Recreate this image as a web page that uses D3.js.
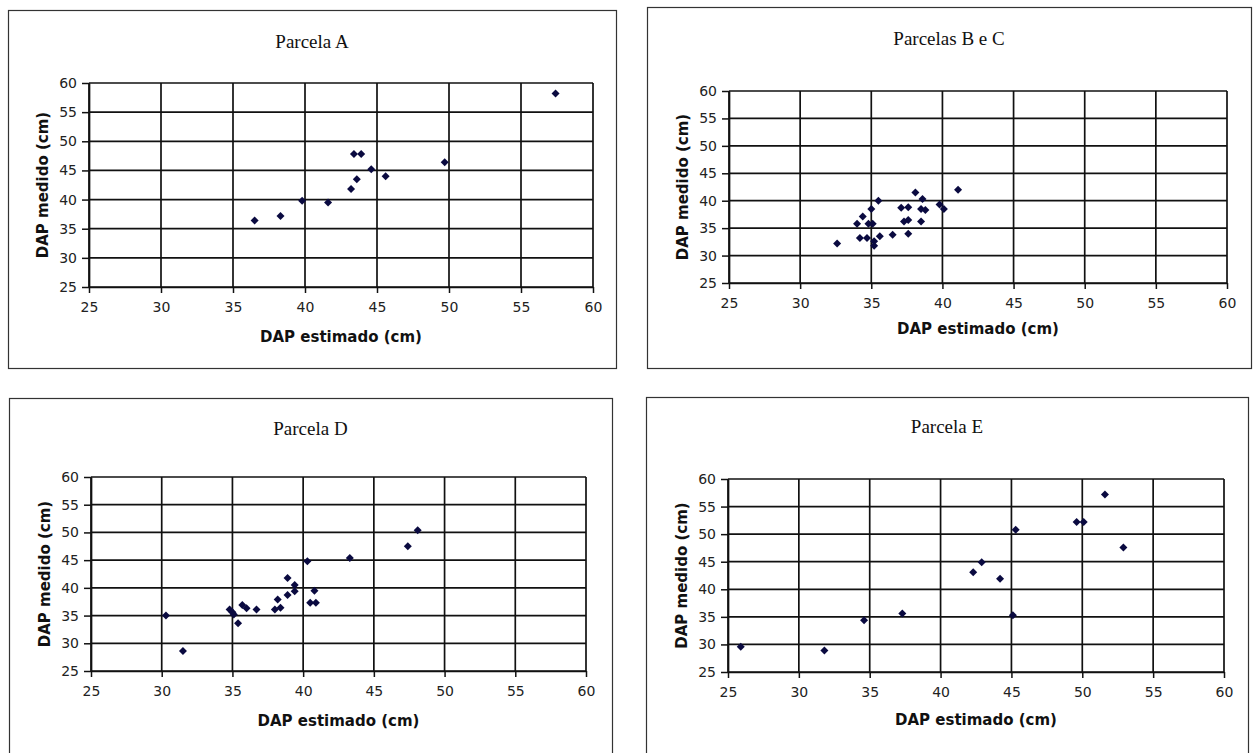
<!DOCTYPE html>
<html>
<head>
<meta charset="utf-8">
<script src="https://cdn.jsdelivr.net/npm/d3@7"></script>
<style>
  body { margin: 0; background: #fff; }
  svg { display: block; }
</style>
</head>
<body>
<svg id="chart" width="1254" height="753"></svg>
<script>
// DAP (diâmetro à altura do peito): estimado vs. medido, por parcela
const parcelaA_estimado = [36.5, 38.3, 39.8, 41.6, 43.2, 43.4, 43.9, 43.6, 44.6, 45.6, 49.7, 57.4];
const parcelaA_medido   = [36.4, 37.2, 39.8, 39.5, 41.8, 47.8, 47.8, 43.5, 45.2, 44.0, 46.4, 58.2];

const parcelasBC_estimado = [32.6, 34.0, 34.4, 34.2, 34.7, 34.8, 35.1, 35.0, 35.5, 35.2, 35.2, 35.6, 36.5,
                             37.1, 37.6, 37.3, 37.6, 37.6, 38.1, 38.6, 38.5, 38.8, 38.5, 39.8, 40.1, 41.1];
const parcelasBC_medido   = [32.2, 35.8, 37.1, 33.2, 33.2, 35.8, 35.8, 38.5, 40.0, 32.6, 31.8, 33.5, 33.8,
                             38.7, 38.8, 36.2, 36.5, 34.0, 41.5, 40.3, 38.5, 38.3, 36.2, 39.3, 38.5, 42.0];

const parcelaD_estimado = [30.3, 31.5, 34.8, 35.0, 35.1, 35.4, 35.7, 36.0, 36.7, 38.0, 38.4, 38.2, 38.9,
                           38.9, 39.4, 39.4, 40.3, 40.8, 40.5, 40.9, 43.3, 47.4, 48.1];
const parcelaD_medido   = [35.0, 28.6, 36.1, 35.6, 35.2, 33.6, 36.9, 36.3, 36.1, 36.1, 36.4, 37.9, 38.7,
                           41.8, 40.5, 39.4, 44.8, 39.5, 37.3, 37.3, 45.4, 47.5, 50.4];

const parcelaE_estimado = [25.9, 31.8, 34.6, 37.3, 42.3, 42.9, 44.2, 45.1, 45.3, 49.6, 50.1, 51.6, 52.9];
const parcelaE_medido   = [29.6, 28.9, 34.4, 35.6, 43.1, 44.9, 41.9, 35.3, 50.8, 52.2, 52.2, 57.2, 47.6];

const axisTicks = [25, 30, 35, 40, 45, 50, 55, 60];
const panelTitles = ["Parcela A", "Parcelas B e C", "Parcela D", "Parcela E"];
const xAxisTitle = "DAP estimado (cm)";
const yAxisTitle = "DAP medido (cm)";

const series = [
  { est: parcelaA_estimado,   med: parcelaA_medido },
  { est: parcelasBC_estimado, med: parcelasBC_medido },
  { est: parcelaD_estimado,   med: parcelaD_medido },
  { est: parcelaE_estimado,   med: parcelaE_medido }
];

// Panel geometry: outer frame, plot box, title and axis-title baselines
const panels = [
  { frame: [8, 10, 616, 368],   plot: [89, 83, 593, 287],    titleY: 48,  xTitleY: 342 },
  { frame: [647, 7, 1251, 368], plot: [729, 91, 1227, 283],  titleY: 45,  xTitleY: 334 },
  { frame: [9, 398, 612, 770],  plot: [91, 477, 586, 671],   titleY: 435, xTitleY: 726 },
  { frame: [646, 397, 1248, 770], plot: [728, 479, 1224, 672], titleY: 433, xTitleY: 725 }
];

const svg = d3.select("#chart");
const diamond = d3.symbol().type(d3.symbolSquare).size(32);

panels.forEach((p, i) => {
  const [fx0, fy0, fx1, fy1] = p.frame;
  const [px0, py0, px1, py1] = p.plot;
  const g = svg.append("g");

  g.append("rect")
    .attr("x", fx0 + 0.5).attr("y", fy0 + 0.5)
    .attr("width", fx1 - fx0).attr("height", fy1 - fy0)
    .attr("fill", "#fff").attr("stroke", "#333").attr("stroke-width", 1.2);

  const x = d3.scaleLinear().domain([25, 60]).range([px0, px1]);
  const y = d3.scaleLinear().domain([25, 60]).range([py1, py0]);

  // grid
  g.append("g").selectAll("line").data(axisTicks).join("line")
    .attr("x1", d => x(d)).attr("x2", d => x(d))
    .attr("y1", py0).attr("y2", py1)
    .attr("stroke", "#111").attr("stroke-width", 1.7);
  g.append("g").selectAll("line").data(axisTicks).join("line")
    .attr("y1", d => y(d)).attr("y2", d => y(d))
    .attr("x1", px0).attr("x2", px1)
    .attr("stroke", "#111").attr("stroke-width", 1.7);

  // axes
  const xAxis = d3.axisBottom(x).tickValues(axisTicks).tickSize(6).tickSizeOuter(0).tickPadding(9);
  const yAxis = d3.axisLeft(y).tickValues(axisTicks).tickSize(7).tickSizeOuter(0).tickPadding(5);
  [g.append("g").attr("transform", `translate(0,${py1})`).call(xAxis),
   g.append("g").attr("transform", `translate(${px0},0)`).call(yAxis)].forEach(ax => {
    ax.select(".domain").attr("stroke", "#111").attr("stroke-width", 1.7);
    ax.selectAll(".tick line").attr("stroke", "#111").attr("stroke-width", 1.5);
    ax.selectAll(".tick text")
      .attr("fill", "#222")
      .style("font-family", "'DejaVu Sans', sans-serif")
      .style("font-size", "14px");
  });

  // titles
  g.append("text")
    .attr("x", (fx0 + fx1) / 2).attr("y", p.titleY)
    .attr("text-anchor", "middle")
    .style("font-family", "'Liberation Serif', 'Times New Roman', serif")
    .style("font-size", "19px").attr("fill", "#111")
    .text(panelTitles[i]);

  g.append("text")
    .attr("x", (px0 + px1) / 2).attr("y", p.xTitleY)
    .attr("text-anchor", "middle")
    .style("font-family", "'DejaVu Sans', sans-serif")
    .style("font-weight", "bold").style("font-size", "15px").attr("fill", "#111")
    .text(xAxisTitle);

  g.append("text")
    .attr("transform", `translate(${px0 - 41},${(py0 + py1) / 2}) rotate(-90)`)
    .attr("text-anchor", "middle")
    .style("font-family", "'DejaVu Sans', sans-serif")
    .style("font-weight", "bold").style("font-size", "15px").attr("fill", "#111")
    .text(yAxisTitle);

  // points
  const s = series[i];
  g.append("g").selectAll("path").data(d3.range(s.est.length)).join("path")
    .attr("d", diamond)
    .attr("transform", k => `translate(${x(s.est[k])},${y(s.med[k])}) rotate(45)`)
    .attr("fill", "#0a0a40");
});
</script>
</body>
</html>
